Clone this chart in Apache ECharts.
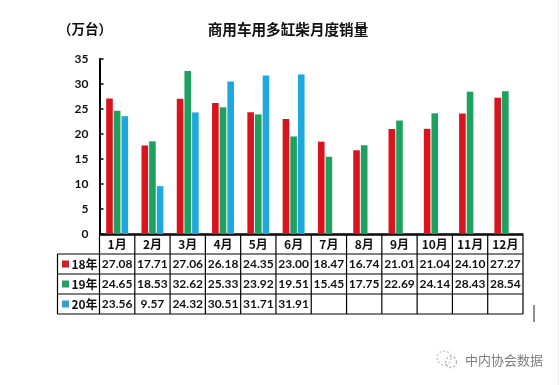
<!DOCTYPE html>
<html><head><meta charset="utf-8">
<style>html,body{margin:0;padding:0;background:#fff}#c{width:560px;height:385px}</style>
<script src="https://cdn.jsdelivr.net/npm/echarts@6/dist/echarts.min.js"></script>
</head><body><div id="c"></div>
<script>
const months=['1月','2月','3月','4月','5月','6月','7月','8月','9月','10月','11月','12月'];
const y18=[27.08,17.71,27.06,26.18,24.35,23.00,18.47,16.74,21.01,21.04,24.10,27.27];
const y19=[24.65,18.53,32.62,25.33,23.92,19.51,15.45,17.75,22.69,24.14,28.43,28.54];
const y20=[23.56,9.57,24.32,30.51,31.71,31.91,null,null,null,null,null,null];
const names=['18年','19年','20年'];
const colors=['#d9141c','#1ea05f','#1ea8de'];
const swatches=['#c9202c','#2a9c68','#3a9fcb'];
const rows=[y18,y19,y20];

const L=99.5,R=523,T=59,B=234,rowTops=[235,254,274,294,314],tL=57.5;
const cw=(R-L)/12, num='Lato, "Noto Sans CJK SC", sans-serif', cjk='"Noto Sans CJK SC", sans-serif';
const g=[];
const line=(x1,y1,x2,y2,w,c)=>g.push({type:'line',silent:true,shape:{x1,y1,x2,y2},style:{stroke:c||'#000',lineWidth:w||1}});
const text=(x,y,t,o)=>g.push({type:'text',silent:true,x,y,style:Object.assign({text:t,align:'center',verticalAlign:'middle',fill:'#111',font:'bold 12px '+num},o||{})});
rowTops.forEach((y,i)=>line(i===0?L:tL,y,R,y,i===0?1.5:1.2));
line(tL,rowTops[1],tL,rowTops[4],1.2);
for(let i=0;i<=12;i++) line(L+i*cw,rowTops[0],L+i*cw,rowTops[4],1.2);
months.forEach((m,i)=>text(L+(i+.5)*cw,(rowTops[0]+rowTops[1])/2,m,{font:'bold 12px '+cjk}));
rows.forEach((r,k)=>{
  const cy=(rowTops[k+1]+rowTops[k+2])/2;
  g.push({type:'rect',silent:true,shape:{x:62,y:cy-3.5,width:7,height:7},style:{fill:swatches[k]}});
  text(84.5,cy,names[k],{font:'bold 12px '+cjk});
  r.forEach((v,i)=>{ if(v!=null) text(L+(i+.5)*cw,cy,v.toFixed(2),{}); });
});
text(85,29,'（万台）',{font:'bold 13.5px '+cjk});
text(288,29.5,'商用车用多缸柴月度销量',{font:'bold 14.6px '+cjk});
line(534,305,534,322,1,'#222');
line(558.5,0,558.5,385,1,'#eeeeee');
// watermark
g.push({type:'circle',silent:true,shape:{cx:444,cy:358,r:7},style:{fill:'none',stroke:'#c4c4c4',lineWidth:1.4,lineDash:[2,2]}});
g.push({type:'circle',silent:true,shape:{cx:451,cy:362,r:5.5},style:{fill:'none',stroke:'#b4b4b4',lineWidth:1.4,lineDash:[2,2]}});
text(504,360,'中内协会数据',{font:'13px '+cjk,fill:'#7d7d7d'});

const chart=echarts.init(document.getElementById('c'),null,{renderer:'canvas'});
const bar=(name,data,c)=>({name,type:'bar',data,barWidth:6.6,barGap:'16%',itemStyle:{color:c},animation:false});
chart.setOption({
  animation:false,backgroundColor:'#fff',
  grid:{left:L,right:560-R,top:T,bottom:385-B,containLabel:false},
  xAxis:{type:'category',data:months,axisLabel:{show:false},axisTick:{show:false},axisLine:{lineStyle:{color:'#000',width:1.5}}},
  yAxis:{type:'value',min:0,max:35,interval:5,splitLine:{show:false},
    axisLine:{show:true,lineStyle:{color:'#000',width:2}},
    axisTick:{show:true,inside:true,length:4,lineStyle:{color:'#000',width:1.5}},
    axisLabel:{color:'#111',margin:11,fontFamily:'Lato, sans-serif',fontWeight:'bold',fontSize:12}},
  series:[bar(names[0],y18,colors[0]),bar(names[1],y19,colors[1]),bar(names[2],y20,colors[2])],
  graphic:{elements:g}
});
</script></body></html>
